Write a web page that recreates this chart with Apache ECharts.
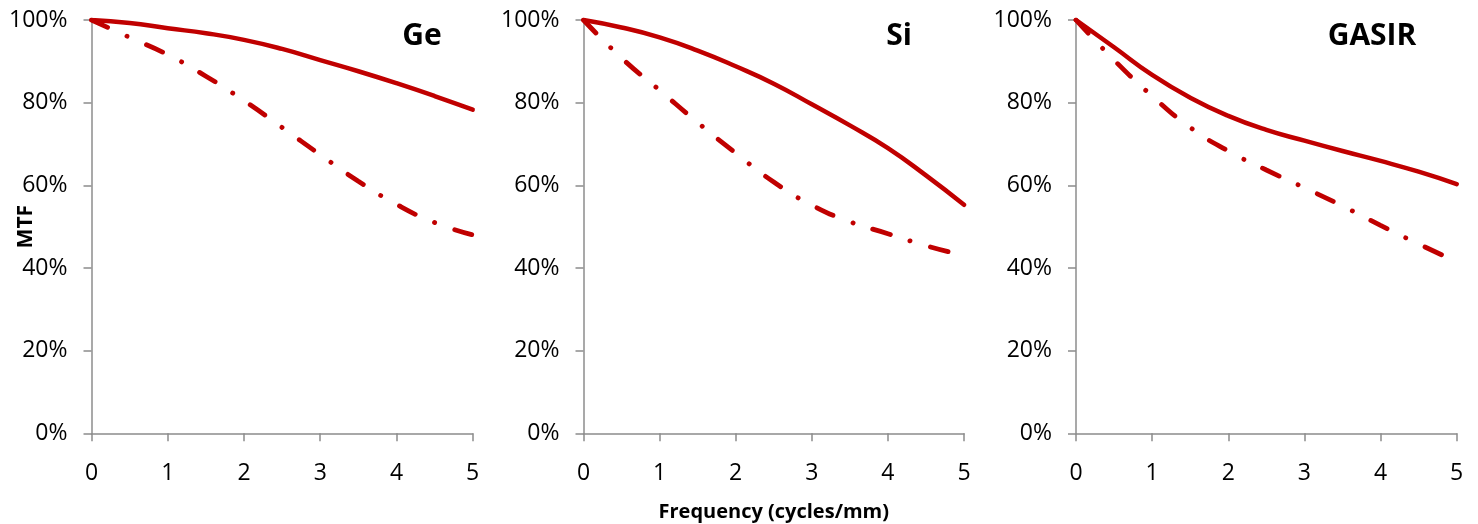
<!DOCTYPE html>
<html>
<head>
<meta charset="utf-8">
<script src="https://cdn.jsdelivr.net/npm/echarts@6/dist/echarts.min.js"></script>
<style>
  html, body { margin: 0; padding: 0; background: #fff; }
  #chart { width: 1478px; height: 524px; }
</style>
</head>
<body>
<div id="chart"></div>
<script>
// Spatial frequency samples (cycles/mm)
const freq = [0, 0.5, 1, 1.5, 2, 2.5, 3, 3.5, 4, 4.5, 5];

// MTF values in percent
const geSolid = [100, 99.3, 98.0, 96.8, 95.2, 93.0, 90.3, 87.6, 84.7, 81.6, 78.3];
const geDash  = [100, 95.8, 91.6, 86.4, 80.5, 74.0, 67.4, 61.0, 55.4, 51.0, 48.0];
const siSolid = [100, 98.2, 95.8, 92.6, 88.8, 84.6, 79.6, 74.5, 69.0, 62.4, 55.3];
const siDash  = [100, 90.8, 83.0, 75.2, 67.8, 60.8, 55.2, 51.2, 48.3, 45.4, 43.0];
const gaSolid = [100, 93.4, 86.7, 81.2, 76.8, 73.4, 70.8, 68.3, 65.9, 63.3, 60.3];
const gaDash  = [100, 90.3, 81.6, 74.0, 68.3, 63.7, 59.4, 55.0, 50.3, 45.8, 41.5];

const panelNames = ['Ge', 'Si', 'GASIR'];
const xTicks = [0, 1, 2, 3, 4, 5];
const yTicks = [0, 20, 40, 60, 80, 100];

const RED = '#c00000';
const AXIS = '#8c8c8c';
const FONT = 'Open Sans';

const panels = [
  { solid: geSolid, dash: geDash, left: 91.5, width: 381.2, titleX: 422 },
  { solid: siSolid, dash: siDash, left: 583.5, width: 380.5, titleX: 899 },
  { solid: gaSolid, dash: gaDash, left: 1076, width: 380.7, titleX: 1372 }
];

const pairs = arr => freq.map((f, i) => [f, arr[i]]);

const grids = [], xAxes = [], yAxes = [], series = [], texts = [];

panels.forEach((p, i) => {
  grids.push({
    left: p.left, width: p.width, top: 20, height: 413.3,
    containLabel: false, outerBoundsMode: 'none'
  });
  xAxes.push({
    type: 'value', gridIndex: i, min: xTicks[0], max: xTicks[xTicks.length - 1], interval: 1,
    axisLine: { show: true, onZero: false, lineStyle: { color: AXIS, width: 1.5 } },
    axisTick: { show: true, length: 8, lineStyle: { color: AXIS, width: 1.5 } },
    splitLine: { show: false },
    axisLabel: { color: '#000', fontFamily: FONT, fontSize: 23, margin: 29 },
    name: i === 1 ? 'Frequency (cycles/mm)' : '',
    nameLocation: 'middle', nameGap: 69, nameMoveOverlap: false,
    nameTextStyle: { color: '#000', fontFamily: FONT, fontSize: 20, fontWeight: 'bold' }
  });
  yAxes.push({
    type: 'value', gridIndex: i, min: yTicks[0], max: yTicks[yTicks.length - 1], interval: 20,
    axisLine: { show: true, lineStyle: { color: AXIS, width: 1.5 } },
    axisTick: { show: true, length: 8, lineStyle: { color: AXIS, width: 1.5 } },
    splitLine: { show: false },
    axisLabel: { color: '#000', fontFamily: FONT, fontSize: 23, margin: 24, formatter: '{value}%' },
    name: i === 0 ? 'MTF' : '',
    nameLocation: 'middle', nameGap: 55, nameRotate: 90, nameMoveOverlap: false,
    nameTextStyle: { color: '#000', fontFamily: FONT, fontSize: 21, fontWeight: 'bold' }
  });
  series.push({
    type: 'line', xAxisIndex: i, yAxisIndex: i, data: pairs(p.solid),
    smooth: 0.5, symbol: 'none', silent: true,
    lineStyle: { color: RED, width: 4.5, cap: 'round', join: 'round' }
  });
  series.push({
    type: 'line', xAxisIndex: i, yAxisIndex: i, data: pairs(p.dash),
    smooth: 0.5, symbol: 'none', silent: true,
    lineStyle: { color: RED, width: 4.8, cap: 'round', type: [18, 21, 0.1, 21] }
  });
  texts.push({
    type: 'text', x: p.titleX, y: 36,
    style: {
      text: panelNames[i], fill: '#000', font: 'bold 30px "Open Sans"',
      textAlign: 'center', textVerticalAlign: 'middle'
    }
  });
});

const chart = echarts.init(document.getElementById('chart'), null, { renderer: 'canvas' });
chart.setOption({
  animation: false,
  backgroundColor: '#fff',
  grid: grids,
  xAxis: xAxes,
  yAxis: yAxes,
  series: series,
  graphic: texts
});
</script>
</body>
</html>
